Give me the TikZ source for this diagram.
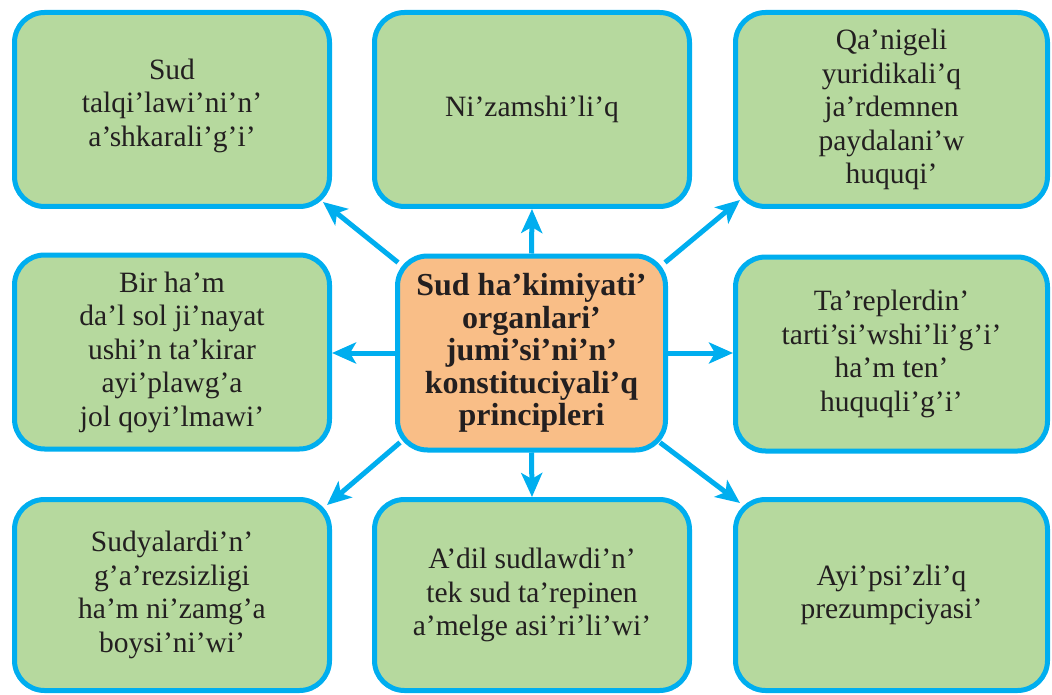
\documentclass[tikz,border=0pt]{standalone}
\usepackage{fontspec}
\setmainfont{Liberation Serif}
\usetikzlibrary{arrows.meta}
\definecolor{bblue}{HTML}{00AEEF}
\definecolor{bgreen}{HTML}{B6D99E}
\definecolor{borange}{HTML}{F9BE87}
\definecolor{btext}{HTML}{231F20}
\tikzset{
  leaf/.style={draw=bblue, line width=5pt, fill=bgreen, rounded corners=30pt,
    minimum width=315pt, minimum height=194pt, align=center, text=btext,
    font=\fontsize{29.5}{33.5}\selectfont, inner sep=0pt},
  hub/.style={draw=bblue, line width=5pt, fill=borange, rounded corners=30pt,
    minimum width=268pt, minimum height=194pt, align=center, text=btext,
    font=\fontsize{32}{32.5}\selectfont\bfseries, inner sep=0pt},
  link/.style={draw=bblue, line width=5pt, -{Stealth[length=24pt,width=21pt,inset=6pt]}}
}
\begin{document}
\begin{tikzpicture}[x=1pt,y=1pt]
\useasboundingbox (0,0) rectangle (1052,-695);
\node[leaf, text depth=14pt] (tl) at (172,-109.5) {Sud\\talqi’lawi’ni’n’\\a’shkarali’g’i’};
\node[leaf] (tm) at (532,-109.5) {Ni’zamshi’li’q};
\node[leaf, minimum width=312pt] (tr) at (891.5,-109.5) {Qa’nigeli\\yuridikali’q\\ja’rdemnen\\paydalani’w\\huquqi’};
\node[leaf] (ml) at (172,-352) {Bir ha’m\\da’l sol ji’nayat\\ushi’n ta’kirar\\ayi’plawg’a\\jol qoyi’lmawi’};
\node[hub] (c) at (531.5,-353) {Sud ha’kimiyati’\\organlari’\\jumi’si’ni’n’\\konstituciyali’q\\principleri};
\node[leaf, minimum width=312pt] (mr) at (891.5,-354) {Ta’replerdin’\\tarti’si’wshi’li’g’i’\\ha’m ten’\\huquqli’g’i’};
\node[leaf, minimum height=191pt] (bl) at (172,-595) {Sudyalardi’n’\\g’a’rezsizligi\\ha’m ni’zamg’a\\boysi’ni’wi’};
\node[leaf, minimum height=191pt] (bm) at (532,-595) {A’dil sudlawdi’n’\\tek sud ta’repinen\\a’melge asi’ri’li’wi’};
\node[leaf, minimum width=312pt, minimum height=191pt] (br) at (891.5,-595) {Ayi’psi’zli’q\\prezumpciyasi’};
\draw[link] (c.north) -- (tm.south);
\draw[link] (c.south) -- (bm.north);
\draw[link] (c.west) -- (ml.east |- c.west);
\draw[link] (c.east) -- (mr.west |- c.east);
\draw[link] ([shift={(3,-9)}]c.north west) -- ([shift={(-9,7)}]tl.south east);
\draw[link] ([shift={(-3,-9)}]c.north east) -- ([shift={(7,9)}]tr.south west);
\draw[link] ([shift={(5,10)}]c.south west) -- ([shift={(-5,-8)}]bl.north east);
\draw[link] ([shift={(-8,10)}]c.south east) -- ([shift={(7,-6)}]br.north west);
\end{tikzpicture}
\end{document}
